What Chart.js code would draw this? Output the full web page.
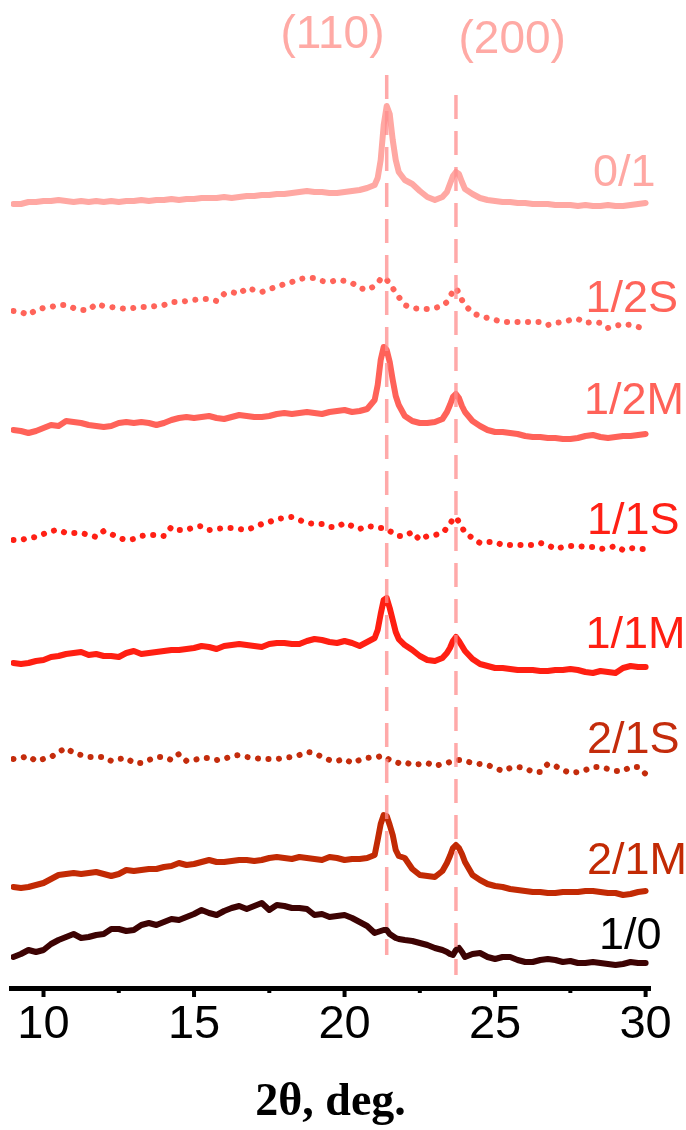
<!DOCTYPE html>
<html>
<head>
<meta charset="utf-8">
<script src="https://cdn.jsdelivr.net/npm/chart.js@4.4.1/dist/chart.umd.min.js"></script>
<style>
  html, body { margin: 0; padding: 0; background: #fff; }
  #wrap { width: 686px; height: 1130px; }
</style>
</head>
<body>
<div id="wrap"><canvas id="xrd"></canvas></div>
<script>
// 2theta grid (deg.), a bit denser around the two reflections
const twoTheta = [
  9, 9.25, 9.5, 9.75, 10, 10.25, 10.5, 10.75, 11, 11.25,
  11.5, 11.75, 12, 12.25, 12.5, 12.75, 13, 13.25, 13.5, 13.75,
  14, 14.25, 14.5, 14.75, 15, 15.25, 15.5, 15.75, 16, 16.25,
  16.5, 16.75, 17, 17.25, 17.5, 17.75, 18, 18.25, 18.5, 18.75,
  19, 19.25, 19.5, 19.75, 20, 20.25, 20.5, 20.75, 21, 21.1,
  21.2, 21.3, 21.4, 21.5, 21.6, 21.7, 21.8, 22, 22.25, 22.5,
  22.75, 23, 23.25, 23.4, 23.5, 23.6, 23.7, 23.8, 23.9, 24,
  24.25, 24.5, 24.75, 25, 25.25, 25.5, 25.75, 26, 26.25, 26.5,
  26.75, 27, 27.25, 27.5, 27.75, 28, 28.25, 28.5, 28.75, 29,
  29.25, 29.5, 29.75, 30
];

// intensities (a.u., stacked with offsets as in the figure)
const s0_1 = [
  784, 784, 786, 786, 787, 787, 788, 787, 786, 787,
  786, 787, 786, 787, 786, 787, 787, 788, 787, 788,
  788, 789, 788, 789, 789, 790, 790, 790, 791, 790,
  791, 792, 792, 793, 793, 794, 794, 795, 796, 797,
  796, 796, 795, 795, 796, 797, 798, 800, 803, 810,
  828, 863, 882, 874, 848, 828, 816, 808, 804, 797,
  791, 788, 791, 796, 804, 812, 816, 814, 806, 799,
  794, 790, 788, 787, 786, 786, 785, 785, 784, 784,
  784, 783, 783, 783, 782, 783, 782, 782, 783, 782,
  782, 783, 784, 785
];
const s1_2S = [
  677, 676, 673, 678, 680, 681, 683, 683, 680, 678,
  678, 684, 682, 681, 680, 679, 680, 681, 681, 682,
  683, 686, 686, 687, 688, 689, 689, 687, 694, 696,
  694, 700, 698, 696, 699, 701, 704, 706, 709, 710,
  710, 707, 706, 708, 707, 705, 700, 698, 702, 705,
  709, 711, 708, 705, 700, 695, 691, 683, 680, 679,
  679, 680, 682, 686, 691, 697, 700, 695, 688, 683,
  675, 672, 670, 668, 666, 666, 666, 666, 666, 666,
  663, 665, 666, 668, 669, 665, 666, 665, 660, 662,
  664, 663, 661, 659
];
const s1_2M = [
  558, 557, 555, 557, 560, 563, 562, 567, 566, 565,
  563, 562, 561, 562, 565, 566, 565, 566, 565, 563,
  565, 568, 570, 571, 570, 571, 572, 570, 569, 571,
  573, 572, 571, 571, 572, 574, 575, 574, 575, 576,
  575, 574, 576, 577, 578, 576, 577, 579, 588, 603,
  628, 641, 638, 626, 608, 592, 583, 572, 567, 565,
  565, 566, 569, 576, 583, 591, 594, 590, 582, 576,
  567, 562, 558, 556, 556, 555, 554, 552, 551, 551,
  550, 550, 549, 549, 550, 552, 553, 551, 550, 551,
  552, 552, 553, 554
];
const s1_1S = [
  448, 448, 450, 451, 454, 457, 458, 455, 455, 455,
  453, 451, 457, 454, 450, 448, 449, 452, 453, 453,
  452, 461, 458, 458, 461, 462, 458, 459, 460, 460,
  459, 458, 461, 464, 466, 469, 470, 471, 468, 465,
  464, 464, 461, 461, 465, 462, 459, 462, 461, 461,
  460, 460, 459, 457, 455, 453, 452, 452, 456, 448,
  452, 453, 455, 460, 464, 469, 471, 466, 461, 455,
  450, 445, 446, 446, 443, 443, 443, 443, 443, 445,
  443, 439, 441, 442, 442, 441, 441, 439, 440, 442,
  438, 440, 439, 439
];
const s1_1M = [
  325, 324, 325, 327, 328, 331, 332, 334, 335, 336,
  333, 334, 332, 332, 331, 335, 337, 334, 335, 336,
  337, 338, 338, 339, 340, 342, 341, 339, 342, 343,
  344, 343, 342, 341, 344, 345, 345, 344, 344, 347,
  349, 348, 346, 345, 347, 345, 342, 346, 350, 358,
  374, 388, 390, 380, 368, 356, 349, 343, 338, 332,
  328, 327, 330, 335, 340, 347, 351, 347, 342, 337,
  329, 324, 322, 320, 320, 319, 318, 318, 318, 317,
  317, 318, 318, 319, 318, 316, 315, 317, 316, 315,
  320, 322, 321, 321
];
const s2_1S = [
  229, 230, 232, 227, 229, 231, 236, 240, 235, 233,
  231, 231, 231, 227, 229, 230, 225, 225, 228, 231,
  231, 228, 234, 227, 228, 230, 230, 228, 229, 232,
  233, 231, 230, 229, 229, 229, 230, 231, 233, 236,
  235, 231, 228, 227, 229, 225, 228, 230, 231, 231,
  232, 232, 230, 228, 227, 226, 225, 226, 223, 224,
  225, 222, 224, 225, 226, 227, 228, 228, 228, 227,
  225, 224, 223, 220, 217, 220, 221, 220, 216, 216,
  224, 222, 218, 215, 216, 218, 221, 221, 219, 217,
  217, 221, 221, 214
];
const s2_1M = [
  101, 100, 101, 103, 105, 109, 113, 114, 115, 114,
  115, 116, 114, 112, 114, 118, 117, 118, 119, 119,
  121, 122, 125, 123, 124, 126, 128, 126, 126, 127,
  128, 128, 127, 128, 130, 131, 130, 129, 131, 130,
  129, 128, 131, 130, 128, 129, 129, 130, 133, 148,
  164, 173, 172, 163, 153, 138, 132, 130, 119, 113,
  112, 111, 117, 125, 132, 140, 143, 140, 134, 126,
  113, 108, 104, 102, 101, 99, 98, 97, 96, 96,
  95, 95, 96, 96, 96, 97, 97, 96, 95, 95,
  93, 94, 96, 97
];
const s1_0 = [
  31, 34, 38, 36, 38, 44, 48, 51, 54, 50,
  51, 53, 54, 59, 59, 57, 58, 63, 65, 63,
  66, 69, 68, 71, 74, 78, 75, 73, 77, 80,
  82, 79, 82, 85, 78, 83, 82, 80, 80, 79,
  73, 74, 71, 72, 73, 70, 66, 62, 55, 56,
  57, 58, 58, 54, 52, 50, 49, 48, 47, 45,
  43, 40, 38, 36, 34, 33, 38, 40, 36, 31,
  34, 35, 31, 29, 31, 31, 28, 26, 26, 28,
  29, 28, 26, 27, 25, 25, 26, 25, 24, 23,
  24, 26, 25, 25
];

const sampleNames = ['0/1', '1/2S', '1/2M', '1/1S', '1/1M', '2/1S', '2/1M', '1/0'];
const sampleData = [s0_1, s1_2S, s1_2M, s1_1S, s1_1M, s2_1S, s2_1M, s1_0];
const peakPositions = [21.4, 23.7];
const peakNames = ['(110)', '(200)'];
const tickValues = [10, 15, 20, 25, 30];
const minorTickValues = [12.5, 17.5, 22.5, 27.5];

// styling
const lineColors = ['#FFA8A3', '#FF645A', '#FF6259', '#FF2015', '#FF1F12', '#C42C0C', '#C22A04', '#3D0303'];
const textColors = ['#FFA8A3', '#FF645A', '#FF6259', '#FF2015', '#FF1F12', '#C42C0C', '#C22A04', '#000000'];
const isDotted = [false, true, false, true, false, true, false, false];
// where the sample names sit (data units)
const namePlace = [[28.25, 814], [28.0, 688], [27.95, 586], [28.05, 466], [28.0, 352], [28.05, 247], [28.05, 126], [28.45, 51]];
const peakNamePlace = [[19.6, 953], [25.57, 948]];
const peakLineSpan = [[913, 33], [893, 13]];

let datasets = [];

peakPositions.forEach(function(p, i) {
    datasets.push({
        data: [{x: p, y: peakLineSpan[i][0]}, {x: p, y: peakLineSpan[i][1]}],
        borderColor: 'rgba(255, 140, 140, 0.75)',
        borderWidth: 3.5,
        borderDash: [24, 12],
        pointRadius: 0,
        order: 0
    });
});

sampleData.forEach(function(vals, i) {
    let ds = {
        label: sampleNames[i],
        data: twoTheta.map(function(t, k) { return {x: t, y: vals[k]}; }),
        borderColor: lineColors[i],
        borderWidth: 6,
        pointRadius: 0,
        tension: 0,
        borderJoinStyle: 'round',
        borderCapStyle: 'round',
        order: 1
    };
    if (isDotted[i]) {
        ds.borderDash = [0.1, 10.4];
        ds.borderWidth = 6;
    }
    datasets.push(ds);
});

const annotate = {
    id: 'annotate',
    afterDraw(chart) {
        const ctx = chart.ctx;
        const x = chart.scales.x;
        const y = chart.scales.y;
        const base = chart.chartArea.bottom;
        ctx.save();
        ctx.strokeStyle = '#000';
        ctx.lineWidth = 4;
        tickValues.forEach(function(v) {
            const px = x.getPixelForValue(v);
            ctx.beginPath();
            ctx.moveTo(px, base);
            ctx.lineTo(px, base + 9);
            ctx.stroke();
        });
        minorTickValues.forEach(function(v) {
            const px = x.getPixelForValue(v);
            ctx.beginPath();
            ctx.moveTo(px, base);
            ctx.lineTo(px, base + 5);
            ctx.stroke();
        });

        ctx.font = '45px "Liberation Sans", Arial, sans-serif';
        ctx.textBaseline = 'middle';
        ctx.textAlign = 'left';
        sampleNames.forEach(function(n, i) {
            ctx.fillStyle = textColors[i];
            ctx.fillText(n, x.getPixelForValue(namePlace[i][0]), y.getPixelForValue(namePlace[i][1]));
        });

        ctx.font = '46px "Liberation Sans", Arial, sans-serif';
        ctx.textAlign = 'center';
        ctx.fillStyle = '#FFAAA5';
        peakNames.forEach(function(n, i) {
            ctx.fillText(n, x.getPixelForValue(peakNamePlace[i][0]), y.getPixelForValue(peakNamePlace[i][1]));
        });
        ctx.restore();
    }
};

new Chart(document.getElementById('xrd').getContext('2d'), {
    type: 'line',
    data: { datasets: datasets },
    plugins: [annotate],
    options: {
        responsive: true,
        maintainAspectRatio: false,
        animation: false,
        events: [],
        layout: { padding: { left: 11, right: 35, top: 0, bottom: 0 } },
        plugins: {
            legend: { display: false },
            tooltip: { enabled: false }
        },
        scales: {
            x: {
                type: 'linear',
                min: 8.92,
                max: 30.15,
                afterBuildTicks: function(scale) {
                    scale.ticks = tickValues.map(function(v) { return {value: v}; });
                },
                afterFit: function(scale) {
                    scale.height = 142;
                },
                grid: { display: false, drawTicks: false },
                border: { display: true, color: '#000', width: 5 },
                ticks: {
                    padding: 14,
                    color: '#000',
                    maxRotation: 0,
                    autoSkip: false,
                    font: { family: '"Liberation Sans", Arial, sans-serif', size: 47, lineHeight: 1 }
                },
                title: {
                    display: true,
                    text: '2θ, deg.',
                    color: '#000',
                    padding: { top: 0, bottom: 4 },
                    font: { family: '"Liberation Serif", "Times New Roman", serif', size: 46, weight: 'bold', lineHeight: 1 }
                }
            },
            y: {
                display: false,
                min: 0,
                max: 988
            }
        }
    }
});
</script>
</body>
</html>
